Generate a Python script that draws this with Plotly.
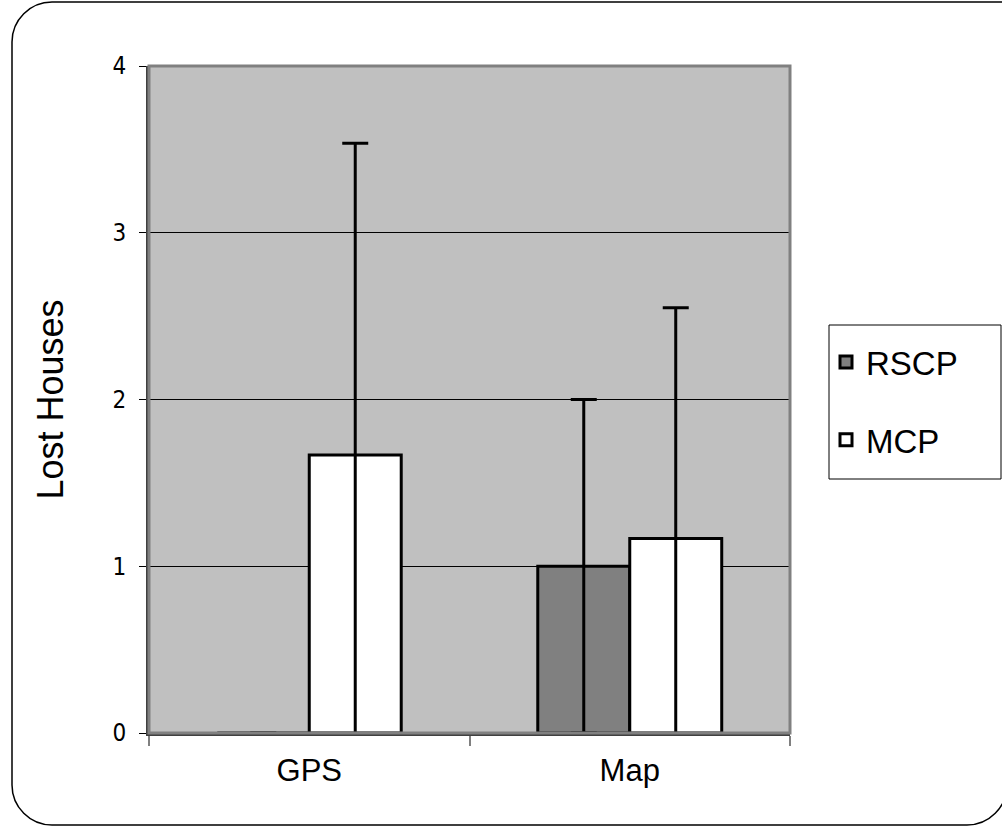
import plotly.graph_objects as go

categories = ["GPS", "Map"]
rscp_values = [0.0, 1.0]
rscp_errors = [0.0, 1.0]
mcp_values = [1.667, 1.167]
mcp_errors = [1.87, 1.383]
y_ticks = [0, 1, 2, 3, 4]

W, H = 1002, 827
L, R, T, B = 149, 790, 66, 733
pw, ph = R - L, B - T

def px(x):
    return (x - L) / pw

def py(y):
    return (B - y) / ph

def P(x, y):
    return f"{px(x)},{py(y)}"

FONT = "Liberation Sans, Arial, sans-serif"
NARROW = "Liberation Sans Narrow, Arial Narrow, DejaVu Sans Condensed, Liberation Sans, sans-serif"

fig = go.Figure()
fig.add_trace(go.Bar(
    name="RSCP", x=categories, y=rscp_values,
    marker=dict(color="#808080", line=dict(color="black", width=3)),
    error_y=dict(type="data", array=rscp_errors, visible=True, color="black", thickness=3, width=13),
    legendgroup="a",
))
fig.add_trace(go.Bar(
    name="MCP", x=categories, y=mcp_values,
    marker=dict(color="white", line=dict(color="black", width=3)),
    error_y=dict(type="data", array=mcp_errors, visible=True, color="black", thickness=3, width=13),
    legendgroup="b",
))

# outer rounded border (open path; right side lies beyond the page)
k = 22
path = (f"M {P(1010, 2)} L {P(52, 2)} C {P(52-k, 2)} {P(12, 42-k)} {P(12, 42)} "
        f"L {P(12, 785)} C {P(12, 785+k)} {P(52-k, 825)} {P(52, 825)} "
        f"L {P(967, 825)} C {P(967+k, 825)} {P(1007, 785+k)} {P(1007, 785)}")
shapes = [
    dict(type="path", xref="paper", yref="paper", path=path, line=dict(color="black", width=1.5), layer="below"),
    dict(type="rect", xref="paper", yref="paper", x0=0, y0=0, x1=1, y1=1,
         line=dict(color="#808080", width=3), layer="above"),
    dict(type="rect", xref="paper", yref="paper", x0=px(829), x1=px(1001), y0=py(479), y1=py(325),
         line=dict(color="black", width=1), fillcolor="white", layer="below"),
]

fig.update_layout(
    width=W, height=H,
    margin=dict(l=L, r=W - R, t=T, b=H - B, pad=0),
    paper_bgcolor="white", plot_bgcolor="#C0C0C0",
    barmode="group", bargap=0.426, bargroupgap=0,
    showlegend=True,
    legend=dict(x=px(826), y=py(334), xanchor="left", yanchor="top",
                bgcolor="rgba(0,0,0,0)", borderwidth=0,
                font=dict(family=FONT, size=33, color="black"),
                traceorder="grouped", tracegroupgap=32),
    shapes=shapes,
    font=dict(family=FONT, color="black"),
)
fig.update_xaxes(
    showgrid=False, showline=True, linecolor="#404040", linewidth=3,
    ticks="outside", tickson="boundaries", ticklen=10, tickcolor="#808080", tickwidth=2,
    tickfont=dict(family=FONT, size=31), ticklabelstandoff=8,
)
fig.update_yaxes(
    range=[0, 4], tickvals=y_ticks, showgrid=True, gridcolor="black", gridwidth=1,
    showline=True, linecolor="#404040", linewidth=3, zeroline=False,
    ticks="outside", ticklen=7, tickcolor="black", tickwidth=1,
    tickfont=dict(family=NARROW, size=24), ticklabelstandoff=8,
    title=dict(text="Lost Houses", font=dict(family=FONT, size=36), standoff=38),
)

fig.write_html("out.html", config={"displayModeBar": False},
               post_script="document.body.style.margin='0px';document.body.style.overflow='hidden';")
